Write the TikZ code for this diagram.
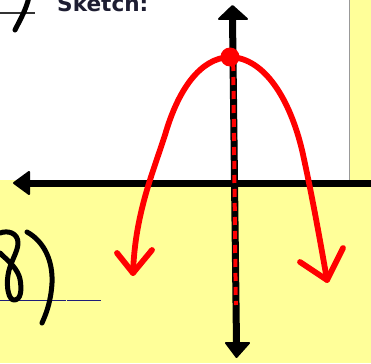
\documentclass[tikz,border=0pt]{standalone}
\usepackage{fontspec}
\newfontfamily\sketchfont{DejaVu Sans}
\begin{document}
\begin{tikzpicture}[x=1pt,y=-1pt,
  pen/.style={line width=5pt,line cap=round,line join=round},
  redpen/.style={pen,line width=5.8pt,draw={rgb,255:red,255;green,0;blue,0}},
  axis/.style={line width=7pt},
  ahead/.style={fill=black,draw=black,line width=2pt,line join=round}]
\definecolor{bgyellow}{RGB}{255,255,153}
\definecolor{myred}{RGB}{255,0,0}
\definecolor{navyline}{RGB}{30,30,120}
\definecolor{txtdark}{RGB}{30,30,50}
\useasboundingbox (0,0) rectangle (371,363);
\clip (0,0) rectangle (371,363);
% backgrounds
\fill[bgyellow] (0,0) rectangle (371,363);
\fill[white] (0,0) rectangle (349.5,180);
\draw[gray!80,line width=1.2pt] (349.5,0) -- (349.5,180);
% top-left handwriting
\draw[black!80,line width=1.3pt] (0,13) -- (35,13);
\draw[pen,black] (29,-3) .. controls (26,10) and (20,20) .. (15,30);
\node[anchor=base west,inner sep=0pt,text=txtdark,font=\sketchfont\bfseries\fontsize{21.6}{24}\selectfont] (sketch) at (57,11.5) {Sketch:};
% bottom-left handwriting
\draw[navyline,line width=1.3pt] (0,300.5) -- (66,300.5) (67,300.5) -- (101,300.5);
\draw[pen,black] (0,233) .. controls (8,230) and (18,233) .. (18,243)
  .. controls (18,252) and (10,262) .. (8,275)
  .. controls (6,288) and (9,300) .. (14,300)
  .. controls (21,300) and (22,290) .. (20,279)
  .. controls (18,270) and (10,262) .. (3,256)
  -- (0,253);
\draw[pen,black] (27,232) .. controls (45,242) and (53,262) .. (52,283)
  .. controls (51,300) and (47,312) .. (42,323);
% horizontal axis
\coordinate (hl) at (14,183);
\coordinate (hr) at (372,183);
\draw[axis] (28,183) -- (hr);
\filldraw[ahead] (hl) -- (29,172) -- (29,194) -- cycle;
% vertical axis
\coordinate (vt) at (232.5,6);
\coordinate (vb) at (236.5,357);
\draw[axis] (232.5,18) -- (236.5,344);
\filldraw[ahead] (vt) -- (219,19) -- (247,19) -- cycle;
\filldraw[ahead] (vb) -- (226,343) -- (249,343) -- cycle;
% red dashed symmetry line
\draw[myred,line width=4pt,dash pattern=on 8pt off 6pt] (233.2,63) -- (235.8,305);
% parabola
\coordinate (vx) at (230,57);
\coordinate (lt) at (133,273);
\coordinate (rt) at (327,280);
\draw[redpen] (vx) .. controls (200,58) and (178,90) .. (165,135)
  .. controls (152,175) and (135,215) .. (lt);
\draw[redpen] (vx) .. controls (265,58) and (290,100) .. (302,150)
  .. controls (312,195) and (320,240) .. (rt);
\draw[redpen] (117,253) -- (lt) -- (152,250);
\draw[redpen] (300,262) -- (rt) -- (343,248);
\fill[myred] (vx) circle (9.5pt);
\end{tikzpicture}
\end{document}
